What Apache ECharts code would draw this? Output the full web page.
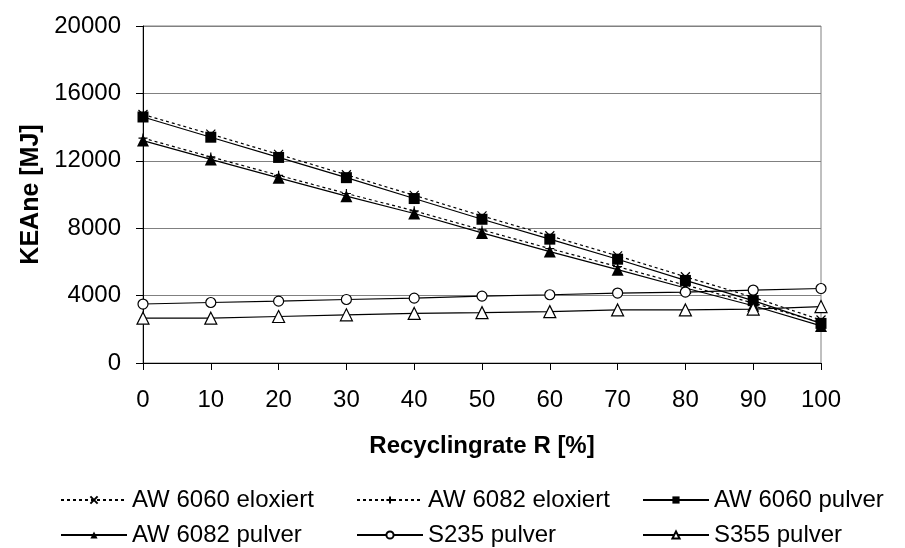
<!DOCTYPE html>
<html>
<head>
<meta charset="utf-8">
<script src="https://cdn.jsdelivr.net/npm/echarts@6/dist/echarts.min.js"></script>
<style>
  html, body { margin: 0; padding: 0; background: #fff; }
  #chart { width: 905px; height: 548px; }
</style>
</head>
<body>
<div id="chart"></div>
<script>
// Recycling rate in percent (x axis categories)
const recyclingRates = [0, 10, 20, 30, 40, 50, 60, 70, 80, 90, 100];

// Cumulative energy demand KEAne in MJ
const aw6060Eloxiert = [14750, 13580, 12380, 11170, 9950, 8730, 7550, 6360, 5120, 3900, 2550];
const aw6082Eloxiert = [13350, 12230, 11140, 10060, 9030, 7900, 6790, 5720, 4620, 3560, 2400];
const aw6060Pulver   = [14600, 13400, 12200, 11000, 9760, 8530, 7350, 6160, 4900, 3700, 2350];
const aw6082Pulver   = [13200, 12080, 10990, 9900, 8870, 7720, 6610, 5540, 4450, 3400, 2200];
const s235Pulver     = [3500, 3590, 3670, 3770, 3850, 3970, 4050, 4150, 4210, 4330, 4420];
const s355Pulver     = [2660, 2660, 2760, 2860, 2940, 2990, 3050, 3150, 3150, 3200, 3350];

const seriesNames = [
  'AW 6060 eloxiert', 'AW 6082 eloxiert', 'AW 6060 pulver',
  'AW 6082 pulver', 'S235 pulver', 'S355 pulver'
];

const FONT = '"Liberation Sans", Arial, sans-serif';
const crossPath = 'path://M0,0L10,10M10,0L0,10';
const plusPath = 'path://M5,0L5,10M0,5L10,5';

function lineSeries(name, data, opts) {
  return Object.assign({
    name: name,
    type: 'line',
    data: data,
    animation: false,
    lineStyle: { color: '#000', width: 1.2 },
    emphasis: { disabled: true }
  }, opts);
}

const series = [
  lineSeries(seriesNames[0], aw6060Eloxiert, {
    symbol: crossPath, symbolSize: 9,
    lineStyle: { color: '#000', width: 1.2, type: [3, 3] },
    itemStyle: { color: 'rgba(0,0,0,0)', borderColor: '#000', borderWidth: 1.2 }
  }),
  lineSeries(seriesNames[1], aw6082Eloxiert, {
    symbol: plusPath, symbolSize: 9,
    lineStyle: { color: '#000', width: 1.2, type: [3, 3] },
    itemStyle: { color: 'rgba(0,0,0,0)', borderColor: '#000', borderWidth: 1.2 }
  }),
  lineSeries(seriesNames[2], aw6060Pulver, {
    symbol: 'rect', symbolSize: 11,
    itemStyle: { color: '#000' }
  }),
  lineSeries(seriesNames[3], aw6082Pulver, {
    symbol: 'triangle', symbolSize: 12,
    itemStyle: { color: '#000' }
  }),
  lineSeries(seriesNames[4], s235Pulver, {
    symbol: 'circle', symbolSize: 10,
    itemStyle: { color: '#fff', borderColor: '#000', borderWidth: 1.2 }
  }),
  lineSeries(seriesNames[5], s355Pulver, {
    symbol: 'triangle', symbolSize: 12,
    itemStyle: { color: '#fff', borderColor: '#000', borderWidth: 1.2 }
  })
];

// One legend box per entry, laid out as a 3 x 2 table
const legendSlots = [
  { left: 60, top: 488 }, { left: 356, top: 488 }, { left: 642, top: 488 },
  { left: 60, top: 523 }, { left: 356, top: 523 }, { left: 642, top: 523 }
];
const legends = seriesNames.map((name, i) => ({
  data: [name],
  left: legendSlots[i].left,
  top: legendSlots[i].top,
  orient: 'horizontal',
  itemWidth: 66,
  itemHeight: 9,
  itemGap: 0,
  padding: 0,
  selectedMode: false,
  textStyle: { fontFamily: FONT, fontSize: 24, color: '#000' }
}));

const chart = echarts.init(document.getElementById('chart'), null, { renderer: 'canvas' });
chart.setOption({
  backgroundColor: '#fff',
  animation: false,
  textStyle: { fontFamily: FONT },
  grid: {
    left: 143, right: 84, top: 26, bottom: 185,
    show: true, borderColor: '#808080', borderWidth: 1, backgroundColor: 'transparent'
  },
  legend: legends,
  xAxis: {
    type: 'category',
    data: recyclingRates,
    boundaryGap: false,
    name: 'Recyclingrate R [%]',
    nameLocation: 'middle',
    nameGap: 71,
    nameTextStyle: { fontFamily: FONT, fontSize: 24, fontWeight: 'bold', color: '#000' },
    axisLine: { lineStyle: { color: '#000', width: 1 } },
    axisTick: { show: true, length: 7, lineStyle: { color: '#000' }, alignWithLabel: true },
    axisLabel: { margin: 25, fontFamily: FONT, fontSize: 24, color: '#000' },
    splitLine: { show: false }
  },
  yAxis: {
    type: 'value',
    min: 0, max: 20000, interval: 4000,
    name: 'KEAne [MJ]',
    nameLocation: 'middle',
    nameGap: 93,
    nameTextStyle: { fontFamily: FONT, fontSize: 25, fontWeight: 'bold', color: '#000' },
    axisLine: { show: true, lineStyle: { color: '#000', width: 1 } },
    axisTick: { show: true, length: 7, lineStyle: { color: '#000' } },
    axisLabel: {
      margin: 22, fontFamily: FONT, fontSize: 24, color: '#000',
      formatter: (v) => String(v)
    },
    splitLine: { show: true, lineStyle: { color: '#808080', width: 1 } }
  },
  series: series
});
</script>
</body>
</html>
